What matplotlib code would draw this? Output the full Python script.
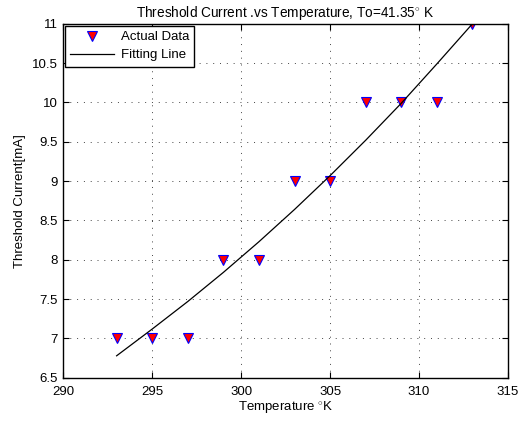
import matplotlib
matplotlib.use("Agg")
import matplotlib.pyplot as plt

# measured points
temps = [293, 295, 297, 299, 301, 303, 305, 307, 309, 311, 313]
currents = [7, 7, 7, 8, 8, 9, 9, 10, 10, 10, 11]

# fitting line
fit_temps = [293, 295, 297, 299, 301, 303, 305, 307, 309, 311, 313]
fit_currents = [6.78, 7.12, 7.47, 7.84, 8.23, 8.64, 9.07, 9.52, 9.99, 10.49, 11.0]

plt.rcParams["font.family"] = ["Liberation Sans", "DejaVu Sans"]
plt.rcParams["mathtext.fontset"] = "custom"
plt.rcParams["mathtext.rm"] = "Liberation Sans"

fig = plt.figure(figsize=(5.27, 4.25), dpi=100)
ax = fig.add_axes([0.12, 0.111, 0.844, 0.833])

ax.plot(temps, currents, linestyle="none", marker="v", markersize=6.5,
        markerfacecolor="red", markeredgecolor="blue", markeredgewidth=0.8,
        label="Actual Data")
ax.plot(fit_temps, fit_currents, color="black", linewidth=0.9,
        label="Fitting Line")

ax.set_xlim(290, 315)
ax.set_ylim(6.5, 11)
ax.set_xticks([290, 295, 300, 305, 310, 315])
ax.set_yticks([6.5, 7, 7.5, 8, 8.5, 9, 9.5, 10, 10.5, 11])
ax.set_yticklabels(["6.5", "7", "7.5", "8", "8.5", "9", "9.5", "10", "10.5", "11"])

ax.grid(True, linestyle=(0, (1, 6)), color="#444444", linewidth=0.7)
ax.tick_params(direction="in", top=True, right=True, labelsize=9.5, length=4)
ax.tick_params(axis="x", pad=6)
ax.tick_params(axis="y", pad=4)
for spine in ax.spines.values():
    spine.set_linewidth(1.0)

ax.set_xlabel("Temperature $^{\\circ}$K", fontsize=9.5, labelpad=1)
ax.set_ylabel("Threshold Current[mA]", fontsize=9.5, labelpad=4)
ax.set_title("Threshold Current .vs Temperature, To=41.35$^{\\circ}$ K",
             fontsize=9.8, pad=5)

leg = ax.legend(loc="upper left", fontsize=9.5, fancybox=False, framealpha=1,
                edgecolor="black", borderaxespad=0.15, handlelength=3.3,
                borderpad=0.4, labelspacing=0.45, handletextpad=0.5)
leg.get_frame().set_linewidth(1.0)

fig.savefig("out.png", dpi=100)
